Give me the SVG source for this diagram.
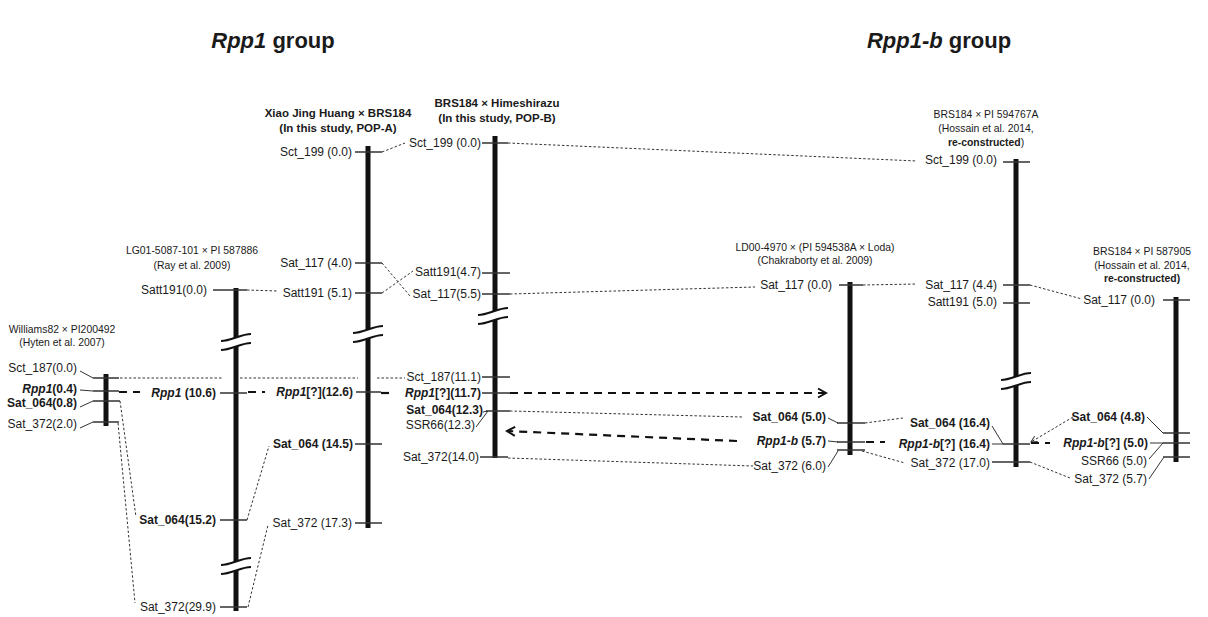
<svg xmlns="http://www.w3.org/2000/svg" width="1208" height="617" viewBox="0 0 1208 617">
<style>
text{font-family:"Liberation Sans",Arial,sans-serif;fill:#1a1a1a}
.l{font-size:12px}
.b{font-weight:bold}
.i{font-style:italic}
.t{font-size:10.4px;text-anchor:middle}
.tb{font-size:11.5px;font-weight:bold;text-anchor:middle}
.big{font-size:22px;font-weight:bold;text-anchor:middle}
.e{text-anchor:end}
.bar{stroke:#111;stroke-width:5}
.tk{stroke:#333;stroke-width:1.5}
.c{stroke:#333;stroke-width:1;fill:none}
.dot{stroke:#333;stroke-width:1;stroke-dasharray:2.5 2;fill:none}
.dash{stroke:#111;stroke-width:2.2;stroke-dasharray:8 6;fill:none}
</style>
<defs>
<marker id="arr" viewBox="0 0 12 12" refX="10" refY="6" markerWidth="12" markerHeight="12" markerUnits="userSpaceOnUse" orient="auto">
<path d="M2,1.5 L10,6 L2,10.5" fill="none" stroke="#111" stroke-width="2"/>
</marker>
<marker id="arrS" viewBox="0 0 8 8" refX="7" refY="4" markerWidth="8" markerHeight="8" markerUnits="userSpaceOnUse" orient="auto">
<path d="M1,1 L7,4 L1,7" fill="none" stroke="#333" stroke-width="1"/>
</marker>
<g id="brk">
<path d="M-15,-1 C-5,-1 5,-8 15,-8 L15,1 C5,1 -5,8 -15,8 Z" fill="#fff"/>
<path d="M-15,-1 C-5,-1 5,-8 15,-8 M-15,8 C-5,8 5,1 15,1" fill="none" stroke="#111" stroke-width="2"/>
</g>
</defs>
<rect width="1208" height="617" fill="#fff"/>

<g id="titles">
<text class="big" x="273" y="48"><tspan class="i">Rpp1</tspan> group</text>
<text class="big" x="939" y="48"><tspan class="i">Rpp1-b</tspan> group</text>
</g>

<g id="connectors">
<path class="dot" d="M120,378 H223 M240,378 H358 M377,378 H405"/>
<path class="dot" d="M120,401 L136,517"/>
<path class="dot" d="M118,423 L135,603"/>
<path class="dot" d="M247,290 L278,291"/>
<path class="dot" d="M247,520 L269,446"/>
<path class="dot" d="M248,607 L268,525"/>
<path class="dot" d="M382,152 L405,143"/>
<path class="dot" d="M382,263 L410,296"/>
<path class="dot" d="M382,293 L413,271"/>
<path class="dot" d="M508,143 L917,161"/>
<path class="dot" d="M510,294 L755,287"/>
<path class="dot" d="M510,411 L742,417"/>
<path class="dot" d="M508,458 L753,466"/>
<path class="dot" d="M863,285 L917,284"/>
<path class="dot" d="M865,423 L903,418"/>
<path class="dot" d="M862,451 L905,463"/>
<path class="dot" d="M1030,285 L1082,299"/>
<path class="dot" d="M1073,417 L1031,442" marker-end="url(#arrS)"/>
<path class="dot" d="M1030,462 L1070,478"/>
<path class="dash" d="M510,393 H826" marker-end="url(#arr)"/>
<path class="dash" d="M737,441 L507,431" marker-end="url(#arr)"/>
<path class="dash" d="M119,392 H140" stroke-dasharray="6 7 8 0"/>
<path class="dash" d="M248,392 H265" stroke-dasharray="3 7 7 0"/>
<path class="dash" d="M381,393 H394" stroke-dasharray="0 3 10 0"/>
<path class="dash" d="M866,442 H885" stroke-dasharray="4 8 7 0"/>
<path class="dash" d="M1031,443 H1050" stroke-dasharray="0 13 6 0"/>
</g>

<g id="map-hyten">
<text class="t" x="62" y="333">Williams82  ×  PI200492</text>
<text class="t" x="62" y="346">(Hyten et al. 2007)</text>
<line class="bar" x1="106" y1="374" x2="106" y2="426"/>
<path class="tk" d="M93,378 H119 M93,391 H119 M93,401 H120 M93,422 H119"/>
<path class="c" d="M80,371 L93,378 M80,390 L93,391 M80,407 L93,401 M80,428 L93,422"/>
<text class="l e" x="77" y="372">Sct_187(0.0)</text>
<text class="l e b" x="77" y="393"><tspan class="i">Rpp1</tspan>(0.4)</text>
<text class="l e b" x="77" y="407">Sat_064(0.8)</text>
<text class="l e" x="77" y="428">Sat_372(2.0)</text>
</g>

<g id="map-ray">
<text class="t" x="192" y="254">LG01-5087-101  ×  PI 587886</text>
<text class="t" x="192" y="269">(Ray et al. 2009)</text>
<line class="bar" x1="236" y1="288" x2="236" y2="611"/>
<use href="#brk" x="236" y="342"/>
<use href="#brk" x="236" y="566"/>
<path class="tk" d="M213,290 H247 M220,393 H247 M220,520 H247 M220,607 H247"/>
<text class="l e" x="207" y="294">Satt191(0.0)</text>
<text class="l e b" x="216" y="397"><tspan class="i">Rpp1</tspan> (10.6)</text>
<text class="l e b" x="216" y="524">Sat_064(15.2)</text>
<text class="l e" x="216" y="611">Sat_372(29.9)</text>
</g>

<g id="map-popA">
<text class="tb" x="338" y="117">Xiao Jing Huang × BRS184</text>
<text class="tb" x="338" y="132">(In this study, POP-A)</text>
<line class="bar" x1="368" y1="146" x2="368" y2="528"/>
<use href="#brk" x="368" y="334"/>
<path class="tk" d="M355,152 H382 M355,263 H382 M355,293 H382 M356,392 H381 M355,444 H382 M355,523 H382"/>
<text class="l e" x="352" y="156">Sct_199 (0.0)</text>
<text class="l e" x="352" y="267">Sat_117 (4.0)</text>
<text class="l e" x="352" y="297">Satt191 (5.1)</text>
<text class="l e b" x="353" y="396"><tspan class="i">Rpp1</tspan>[?](12.6)</text>
<text class="l e b" x="353" y="448">Sat_064 (14.5)</text>
<text class="l e" x="352" y="527">Sat_372 (17.3)</text>
</g>

<g id="map-popB">
<text class="tb" x="497" y="107">BRS184 × Himeshirazu</text>
<text class="tb" x="497" y="122">(In this study, POP-B)</text>
<line class="bar" x1="495" y1="136" x2="495" y2="458"/>
<use href="#brk" x="493" y="316"/>
<path class="tk" d="M482,143 H508 M482,273 H510 M482,294 H510 M482,377 H510 M482,393 H510 M486,411 H510 M480,457 H508"/>
<path class="c" d="M483,412 L487,411 M476,427 L488,411"/>
<text class="l e" x="481" y="147">Sct_199 (0.0)</text>
<text class="l e" x="481" y="276">Satt191(4.7)</text>
<text class="l e" x="481" y="298">Sat_117(5.5)</text>
<text class="l e" x="481" y="381">Sct_187(11.1)</text>
<text class="l e b" x="481" y="397"><tspan class="i">Rpp1</tspan>[?](11.7)</text>
<text class="l e b" x="483" y="414">Sat_064(12.3)</text>
<text class="l e" x="475" y="429">SSR66(12.3)</text>
<text class="l e" x="479" y="461">Sat_372(14.0)</text>
</g>

<g id="map-chakraborty">
<text class="t" x="815" y="251">LD00-4970  ×  (PI 594538A  ×  Loda)</text>
<text class="t" x="815" y="264">(Chakraborty et al. 2009)</text>
<line class="bar" x1="850" y1="282" x2="850" y2="455"/>
<path class="tk" d="M839,285 H863 M837,423 H865 M837,442 H865 M837,450 H865"/>
<path class="c" d="M828,418 L838,423 M828,441 L838,442 M828,467 L838,451"/>
<text class="l e" x="832" y="289">Sat_117 (0.0)</text>
<text class="l e b" x="826" y="421">Sat_064 (5.0)</text>
<text class="l e b" x="826" y="445"><tspan class="i">Rpp1-b</tspan> (5.7)</text>
<text class="l e" x="826" y="470">Sat_372 (6.0)</text>
</g>

<g id="map-hossain-a">
<text class="t" x="986" y="118">BRS184  ×  PI 594767A</text>
<text class="t" x="986" y="132">(Hossain et al. 2014,</text>
<text class="t" x="986" y="146"><tspan class="b">re-constructed</tspan>)</text>
<line class="bar" x1="1016" y1="159" x2="1016" y2="467"/>
<use href="#brk" x="1016" y="381"/>
<path class="tk" d="M1003,162 H1030 M1003,285 H1030 M1003,303 H1030 M1003,444 H1030 M992,462 H1030"/>
<path class="c" d="M992,426 L1003,444 M992,444 H1003"/>
<text class="l e" x="997" y="164">Sct_199 (0.0)</text>
<text class="l e" x="997" y="289">Sat_117 (4.4)</text>
<text class="l e" x="997" y="306">Satt191 (5.0)</text>
<text class="l e b" x="990" y="427">Sat_064 (16.4)</text>
<text class="l e b" x="990" y="448"><tspan class="i">Rpp1-b</tspan>[?] (16.4)</text>
<text class="l e" x="990" y="467">Sat_372 (17.0)</text>
</g>

<g id="map-hossain-b">
<text class="t" x="1142" y="255">BRS184  ×  PI 587905</text>
<text class="t" x="1142" y="269">(Hossain et al. 2014,</text>
<text class="t b" x="1142" y="282">re-constructed)</text>
<line class="bar" x1="1176" y1="297" x2="1176" y2="462"/>
<path class="tk" d="M1163,300 H1190 M1163,433 H1190 M1163,443 H1190 M1163,457 H1190"/>
<path class="c" d="M1147,417 L1163,433 M1150,443 H1163 M1149,459 L1163,443 M1149,479 L1164,457"/>
<text class="l e" x="1155" y="304">Sat_117 (0.0)</text>
<text class="l e b" x="1145" y="421">Sat_064 (4.8)</text>
<text class="l e b" x="1148" y="447"><tspan class="i">Rpp1-b</tspan>[?] (5.0)</text>
<text class="l e" x="1147" y="465">SSR66 (5.0)</text>
<text class="l e" x="1147" y="483">Sat_372 (5.7)</text>
</g>
</svg>
